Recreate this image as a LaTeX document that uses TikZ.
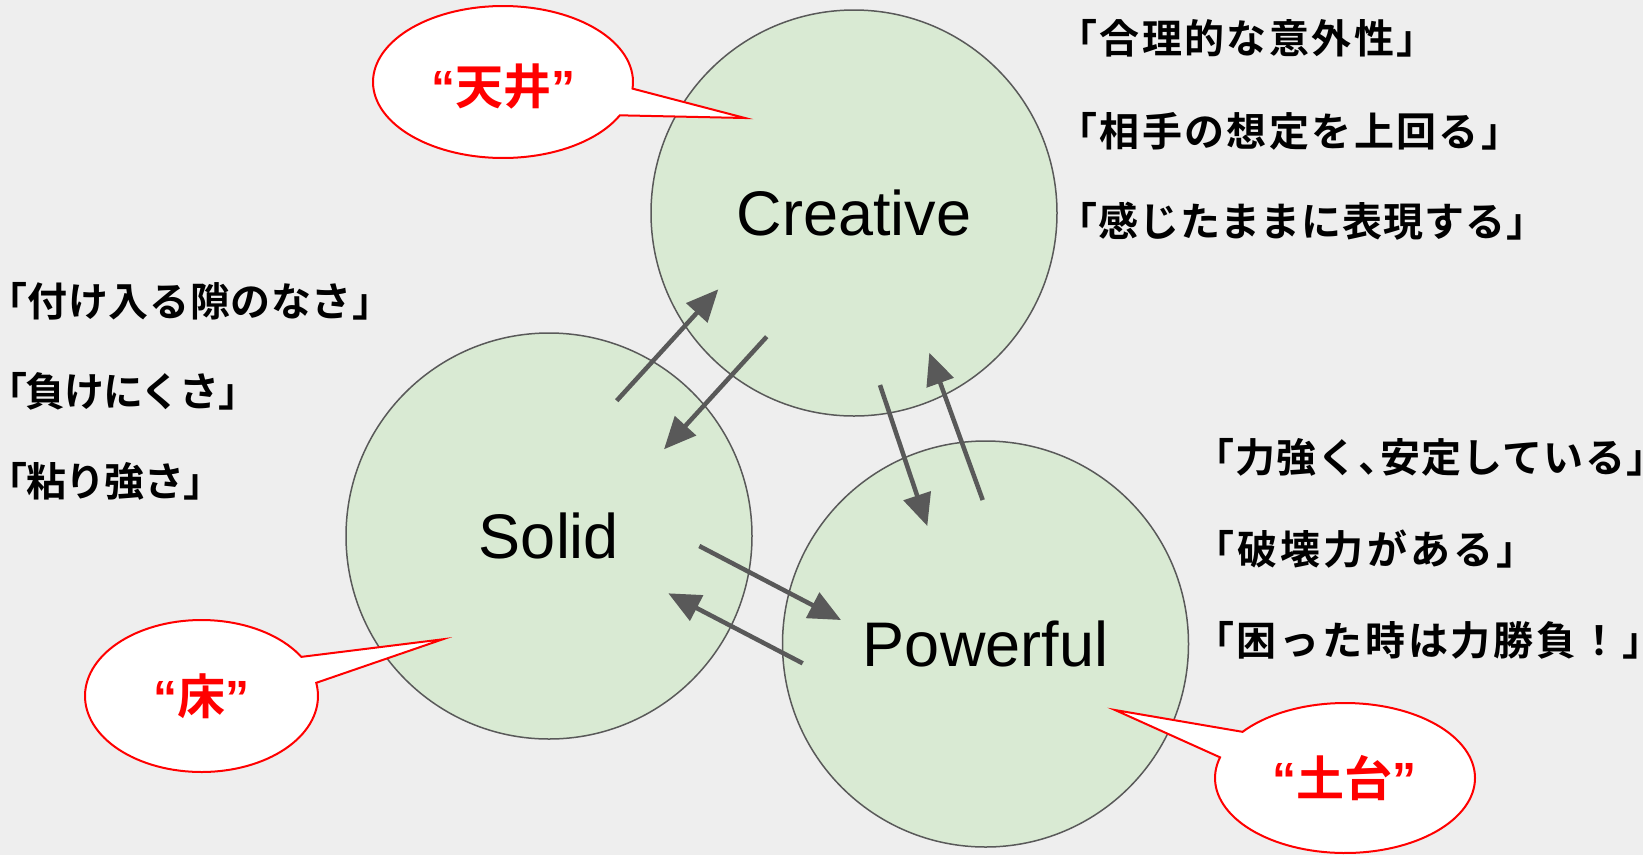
\documentclass[tikz,border=0pt]{standalone}
\usepackage{fontspec}
\setmainfont{Liberation Sans}
\newfontfamily\cjk{Noto Sans CJK JP}[BoldFont={Noto Sans CJK JP Bold}]
\newcommand\jpls[1]{\addfontfeature{LetterSpace=#1}}
\usetikzlibrary{arrows.meta}
\definecolor{bg}{HTML}{EEEEEE}
\definecolor{circfill}{HTML}{D9EAD3}
\definecolor{edge}{HTML}{595959}
\definecolor{calred}{HTML}{FF0000}
\tikzset{
  circ/.style={circle, fill=circfill, draw=edge, line width=1.5pt, minimum size=406pt, inner sep=0pt, font=\fontsize{63}{70}\selectfont},
  flow/.style={draw=edge, line width=4.5pt, -{Triangle[length=32pt,width=28pt]}},
  callout/.style={fill=white, draw=calred, line width=2pt, line join=miter},
  calltext/.style={text=calred, inner sep=0pt, font=\fontsize{48}{50}\selectfont\bfseries},
  jp/.style={anchor=west, inner sep=0pt, font=\fontsize{40}{44}\selectfont\cjk\bfseries}
}
\begin{document}
\begin{tikzpicture}[x=1pt,y=-1pt]
\useasboundingbox (0,0) rectangle (1643,855);
\fill[bg] (0,0) rectangle (1643,855);

% circles
\node[circ] (creative) at (854,213) {Creative};
\node[circ] (solid) at (549,536) {Solid};
\node[circ] (powerful) at (985.5,644) {Powerful};

% arrow end points
\coordinate (a1s) at (616.7,400.7); \coordinate (a1e) at (718.3,289.3);
\coordinate (a2s) at (766.7,336.7); \coordinate (a2e) at (664,449.3);
\coordinate (a3s) at (880,385);     \coordinate (a3e) at (927.3,526);
\coordinate (a4s) at (982.7,500);   \coordinate (a4e) at (929.3,352.7);
\coordinate (a5s) at (699.3,546);   \coordinate (a5e) at (841,620);
\coordinate (a6s) at (802.7,663.3); \coordinate (a6e) at (668.3,593.3);
\draw[flow] (a1s) -- (a1e);
\draw[flow] (a2s) -- (a2e);
\draw[flow] (a3s) -- (a3e);
\draw[flow] (a4s) -- (a4e);
\draw[flow] (a5s) -- (a5e);
\draw[flow] (a6s) -- (a6e);

% callouts
\filldraw[callout] ({503+130*cos(5)},{82+76*sin(5)}) -- (745,118)
  -- ({503+130*cos(26)},{82+76*sin(26)})
  -- plot[domain=26:365, samples=120, variable=\t] ({503+130*cos(\t)},{82+76*sin(\t)}) -- cycle;
\node[calltext] (tenjo) at (503,86) {“{\cjk 天井}”};

\filldraw[callout] ({201.5+116.5*cos(-31)},{696+76*sin(-31)}) -- (442.7,639.3)
  -- ({201.5+116.5*cos(-10)},{696+76*sin(-10)})
  -- plot[domain=-10:329, samples=120, variable=\t] ({201.5+116.5*cos(\t)},{696+76*sin(\t)}) -- cycle;
\node[calltext] (yuka) at (201,696) {“{\cjk 床}”};

\filldraw[callout] ({1345+130*cos(196)},{778+75*sin(196)}) -- (1115,710)
  -- ({1345+130*cos(218)},{778+75*sin(218)})
  -- plot[domain=218:556, samples=120, variable=\t] ({1345+130*cos(\t)},{778+75*sin(\t)}) -- cycle;
\node[calltext] (dodai) at (1344,778) {“{\cjk 土台}”};

% text lists
\node[jp] (c1) at (1077,38)  {\jpls{6}｢合理的な意外性｣};
\node[jp] (c2) at (1077,131) {\jpls{6}｢相手の想定を上回る｣};
\node[jp] (c3) at (1077,221) {\jpls{2.5}｢感じたままに表現する｣};

\node[jp] (s1) at (7,301) {\jpls{1.5}｢付け入る隙のなさ｣};
\node[jp] (s2) at (7,391) {\jpls{-3.5}｢負けにくさ｣};
\node[jp] (s3) at (7,481) {\jpls{-2}｢粘り強さ｣};

\node[jp] (p1) at (1214,457) {\jpls{3}｢力強く､安定している｣};
\node[jp] (p2) at (1214,549) {\jpls{8}｢破壊力がある｣};
\node[jp] (p3) at (1214,640) {\jpls{7}｢困った時は力勝負！｣};
\end{tikzpicture}
\end{document}
